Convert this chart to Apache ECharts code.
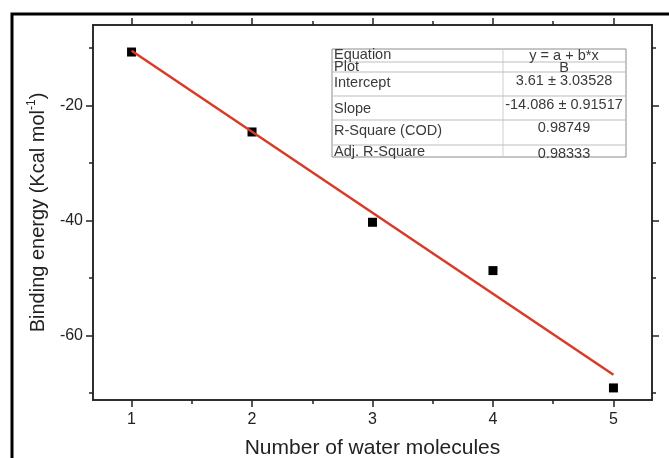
<!DOCTYPE html>
<html>
<head>
<meta charset="utf-8">
<script src="https://cdn.jsdelivr.net/npm/echarts@6/dist/echarts.min.js"></script>
<style>
  html, body { margin: 0; padding: 0; background: #fff; }
  #chart { width: 669px; height: 458px; }
</style>
</head>
<body>
<div id="chart"></div>
<script>
// measured points
const waterCounts = [1, 2, 3, 4, 5]
const bindingEnergy = [-10.7, -24.6, -40.3, -48.7, -69.1]

// linear fit end points (y = 3.61 - 14.086 x)
const fitX = [1, 5]
const fitY = [-10.48, -66.82]

// ticks
const xMajorTicks = [1, 2, 3, 4, 5]
const xMinorTicks = [1.5, 2.5, 3.5, 4.5]
const yMajorTicks = [-20, -40, -60]
const yMinorTicks = [-10, -30, -50, -70]

// fit table
const tableLabels = ['Equation', 'Plot', 'Intercept', 'Slope', 'R-Square (COD)', 'Adj. R-Square']
const tableValues = ['y = a + b*x', 'B', '3.61 \u00b1 3.03528', '-14.086 \u00b1 0.91517', '0.98749', '0.98333']

const FONT = '"Liberation Sans", Arial, sans-serif'
const AXIS_COLOR = '#222'
const X_MIN = 0.68, X_MAX = 5.32
const Y_MIN = -71.2, Y_MAX = -6

const chart = echarts.init(document.getElementById('chart'))

function xAxisDef(pos, ticks, len, withLabels) {
  return {
    type: 'value', position: pos, min: X_MIN, max: X_MAX,
    axisLine: { show: true, onZero: false, lineStyle: { color: AXIS_COLOR, width: 1.5 } },
    axisTick: { show: true, inside: false, length: len, customValues: ticks, lineStyle: { color: AXIS_COLOR, width: 1.5 } },
    axisLabel: withLabels
      ? { show: true, customValues: ticks, margin: 12, color: '#222', fontSize: 16, fontFamily: FONT }
      : { show: false },
    splitLine: { show: false }
  }
}

function yAxisDef(pos, ticks, len, withLabels) {
  return {
    type: 'value', position: pos, min: Y_MIN, max: Y_MAX,
    axisLine: { show: true, onZero: false, lineStyle: { color: AXIS_COLOR, width: 1.5 } },
    axisTick: { show: true, inside: false, length: len, customValues: ticks, lineStyle: { color: AXIS_COLOR, width: 1.5 } },
    axisLabel: withLabels
      ? { show: true, customValues: ticks, margin: 10, color: '#222', fontSize: 16, fontFamily: FONT }
      : { show: false },
    splitLine: { show: false }
  }
}

const xBottom = xAxisDef('bottom', xMajorTicks, 7, true)
xBottom.name = 'Number of water molecules'
xBottom.nameLocation = 'middle'
xBottom.nameGap = 38
xBottom.nameTextStyle = { fontSize: 21, color: '#222', fontFamily: FONT }

const yLeft = yAxisDef('left', yMajorTicks, 7, true)
yLeft.name = 'Binding energy (Kcal mol{sup|-1})'
yLeft.nameLocation = 'middle'
yLeft.nameGap = 43
yLeft.nameTextStyle = {
  fontSize: 20, color: '#222', fontFamily: FONT,
  rich: { sup: { fontSize: 12, fontFamily: FONT, color: '#222', padding: [0, 0, 12, 0] } }
}

// table geometry
const tX = 332, tY = 49, tW = 294, tH = 108, tDiv = 503
const rowLines = [62, 72, 96, 120, 145]
const labelYs = [55, 67, 83, 109, 131, 152]
const valueYs = [56, 68, 81, 105, 128, 154]

const tableGraphics = [
  { type: 'rect', shape: { x: tX, y: tY, width: tW, height: tH }, style: { fill: '#fff', stroke: '#8c8c8c', lineWidth: 1 }, z: 100 },
  { type: 'line', shape: { x1: tDiv, y1: tY, x2: tDiv, y2: tY + tH }, style: { stroke: '#cfcfcf', lineWidth: 1 }, z: 101 }
]
rowLines.forEach(y => {
  tableGraphics.push({ type: 'line', shape: { x1: tX, y1: y, x2: tX + tW, y2: y }, style: { stroke: '#bdbdbd', lineWidth: 1 }, z: 101 })
})
tableLabels.forEach((t, i) => {
  tableGraphics.push({
    type: 'text', x: tX + 2, y: labelYs[i], z: 102,
    style: { text: t, font: '14.5px ' + FONT, fill: '#3a3a3a', textAlign: 'left', textVerticalAlign: 'middle' }
  })
})
tableValues.forEach((t, i) => {
  tableGraphics.push({
    type: 'text', x: 564, y: valueYs[i], z: 102,
    style: { text: t, font: '14.5px ' + FONT, fill: '#3a3a3a', textAlign: 'center', textVerticalAlign: 'middle' }
  })
})

const option = {
  animation: false,
  backgroundColor: '#fff',
  grid: { left: 93, right: 17, top: 25, bottom: 58, containLabel: false, outerBoundsMode: 'none' },
  xAxis: [
    xBottom,
    xAxisDef('bottom', xMinorTicks, 4, false),
    xAxisDef('top', xMajorTicks, 7, false),
    xAxisDef('top', xMinorTicks, 4, false)
  ],
  yAxis: [
    yLeft,
    yAxisDef('left', yMinorTicks, 4, false),
    yAxisDef('right', yMajorTicks, 7, false),
    yAxisDef('right', yMinorTicks, 4, false)
  ],
  graphic: [
    { type: 'rect', shape: { x: 12, y: 14, width: 720, height: 520 }, style: { fill: 'none', stroke: '#000', lineWidth: 3 }, z: 50 }
  ].concat(tableGraphics),
  series: [
    {
      name: 'Fit',
      type: 'line',
      data: fitX.map((x, i) => [x, fitY[i]]),
      showSymbol: false,
      symbol: 'none',
      lineStyle: { color: '#d83a27', width: 2.5 },
      z: 3
    },
    {
      name: 'B',
      type: 'scatter',
      data: waterCounts.map((x, i) => [x, bindingEnergy[i]]),
      symbol: 'rect',
      symbolSize: 9,
      itemStyle: { color: '#000', opacity: 1 },
      z: 2
    }
  ]
}

chart.setOption(option)
</script>
</body>
</html>
